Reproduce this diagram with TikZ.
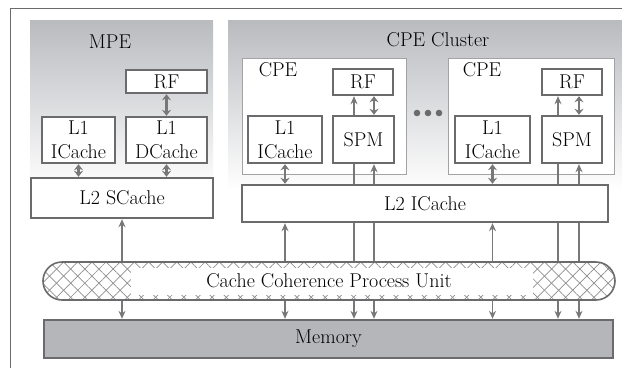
\documentclass[tikz,border=0pt]{standalone}
\usepackage{tikz}
\usetikzlibrary{positioning,arrows.meta,shapes.misc,patterns.meta}
\definecolor{inkDark}{HTML}{6B6B6E}
\definecolor{inkArrow}{HTML}{78787B}
\definecolor{hatchGray}{HTML}{8E8E91}
\definecolor{panelGray}{HTML}{B9BBBF}
\definecolor{memGray}{HTML}{B4B6BA}
\definecolor{cpeLine}{HTML}{A3A3A6}
\pgfdeclarelayer{bg}\pgfdeclarelayer{mid}\pgfsetlayers{bg,mid,main}

\begin{document}
\begin{tikzpicture}[x=1pt, y=-1pt, every node/.style={font=\fontsize{20}{24}\selectfont, text=black},
  box/.style={draw=inkDark, fill=white, line width=2.4pt, inner sep=1pt, align=center},
  panel/.style={top color=panelGray, bottom color=white, inner sep=0pt},
  cpe/.style={draw=cpeLine, fill=white, line width=0.7pt, minimum width=164pt, minimum height=116pt},
  arr/.style={-{Stealth[length=8pt,width=7pt]}, draw=inkArrow, line width=1.3pt},
  dbl/.style={{Stealth[length=6pt,width=9pt]}-{Stealth[length=6pt,width=9pt]}, draw=inkArrow, line width=2.2pt},
  ring/.style={rounded rectangle, draw=inkDark, line width=1.6pt, fill=white, minimum width=572pt, minimum height=38pt, inner sep=0pt,
    path picture={
      \fill[pattern={Lines[angle=45,distance=10pt,line width=0.7pt]}, pattern color=hatchGray]
        (path picture bounding box.south west) rectangle (path picture bounding box.north east);
      \fill[pattern={Lines[angle=-45,distance=10pt,line width=0.7pt]}, pattern color=hatchGray]
        (path picture bounding box.south west) rectangle (path picture bounding box.north east);
      \fill[white] ([xshift=88pt,yshift=-5.5pt]path picture bounding box.north west)
        rectangle ([xshift=-82pt,yshift=5.5pt]path picture bounding box.south east);}},
  mem/.style={box, fill=memGray, minimum width=569pt, minimum height=38pt}]
\useasboundingbox (0,0) rectangle (622,368);
\draw[inkDark, line width=0.8pt] (10,368) -- (10,8) -- (622,8);

\begin{pgfonlayer}{bg}
\node[panel, minimum width=183pt, minimum height=170pt] (mpe) at (121.5,105) {};
\node[panel, minimum width=394pt, minimum height=170pt] (cluster) at (425,105) {};
\node[cpe] (cpeA) at (324,116) {};
\node[cpe, minimum width=166pt] (cpeB) at (531,116) {};
\end{pgfonlayer}

\node (mpeLbl) at (110,42) {MPE};
\node (clLbl) at (438,40) {CPE Cluster};
\node (cpeALbl) at (278,70) {CPE};
\node (cpeBLbl) at (482,70) {CPE};

\node[box, minimum width=81pt, minimum height=23pt] (rfM) at (166.5,81.5) {RF};
\node[box, minimum width=73pt, minimum height=46pt] (icM) at (78.5,140) {L1\\ICache};
\node[box, minimum width=81pt, minimum height=46pt] (dcM) at (166.5,140) {L1\\DCache};
\node[box, minimum width=182pt, minimum height=40pt] (l2s) at (122,198) {L2 SCache};

\node[box, minimum width=60pt, minimum height=26pt] (rfA) at (363,82) {RF};
\node[box, minimum width=74pt, minimum height=47pt] (icA) at (285,139.5) {L1\\ICache};
\node[box, minimum width=61pt, minimum height=47pt] (spmA) at (363.5,139.5) {SPM};
\node[box, minimum width=60pt, minimum height=26pt] (rfB) at (572,82) {RF};
\node[box, minimum width=75pt, minimum height=47pt] (icB) at (492.5,139.5) {L1\\ICache};
\node[box, minimum width=60pt, minimum height=47pt] (spmB) at (572,139.5) {SPM};
\node[box, minimum width=366pt, minimum height=37pt] (l2i) at (425,203.5) {L2 ICache};
\node[inner sep=0pt] (dots) at (428,113) {};
\foreach \dx in {-11,0,11}
  \fill[inkDark] ([xshift=\dx pt]dots) circle (3.3pt);

\node[ring] (ccpu) at (329,281) {Cache Coherence Process Unit};
\node[mem] (mem) at (328.5,339) {Memory};

\coordinate (tA) at ([xshift=-9pt]rfA.south);
\coordinate (sA) at ([xshift=10.5pt]spmA.south);
\coordinate (tB) at ([xshift=-14pt]rfB.south);
\coordinate (sB) at ([xshift=7pt]spmB.south);
\begin{pgfonlayer}{mid}
\draw[arr] (tA |- ccpu.north) -- (tA);
\draw[arr] (sA |- ccpu.north) -- (sA);
\draw[arr] (tB |- ccpu.north) -- (tB);
\draw[arr] (sB |- ccpu.north) -- (sB);
\end{pgfonlayer}
\draw[arr] (tA |- ccpu.south) -- (tA |- mem.north);
\draw[arr] (sA |- ccpu.south) -- (sA |- mem.north);
\draw[arr] (tB |- ccpu.south) -- (tB |- mem.north);
\draw[arr] (sB |- ccpu.south) -- (sB |- mem.north);
\draw[dbl] (sA |- rfA.south) -- (sA |- spmA.north);
\draw[dbl] (sB |- rfB.south) -- (sB |- spmB.north);

\draw[dbl] (rfM.south) -- (dcM.north);
\draw[dbl] (icM.south) -- (icM.south |- l2s.north);
\draw[dbl] (dcM.south) -- (dcM.south |- l2s.north);
\draw[arr] (l2s.south |- ccpu.north) -- (l2s.south);
\draw[arr] (l2s.south |- ccpu.south) -- (l2s.south |- mem.north);

\draw[dbl] (icA.south) -- (icA.south |- l2i.north);
\draw[arr] (icA.south |- ccpu.north) -- (icA.south |- l2i.south);
\draw[arr] (icA.south |- ccpu.south) -- (icA.south |- mem.north);
\draw[dbl] (icB.south) -- (icB.south |- l2i.north);
\draw[arr] (icB.south |- ccpu.north) -- (icB.south |- l2i.south);
\draw[arr] (icB.south |- ccpu.south) -- (icB.south |- mem.north);
\end{tikzpicture}
\end{document}
